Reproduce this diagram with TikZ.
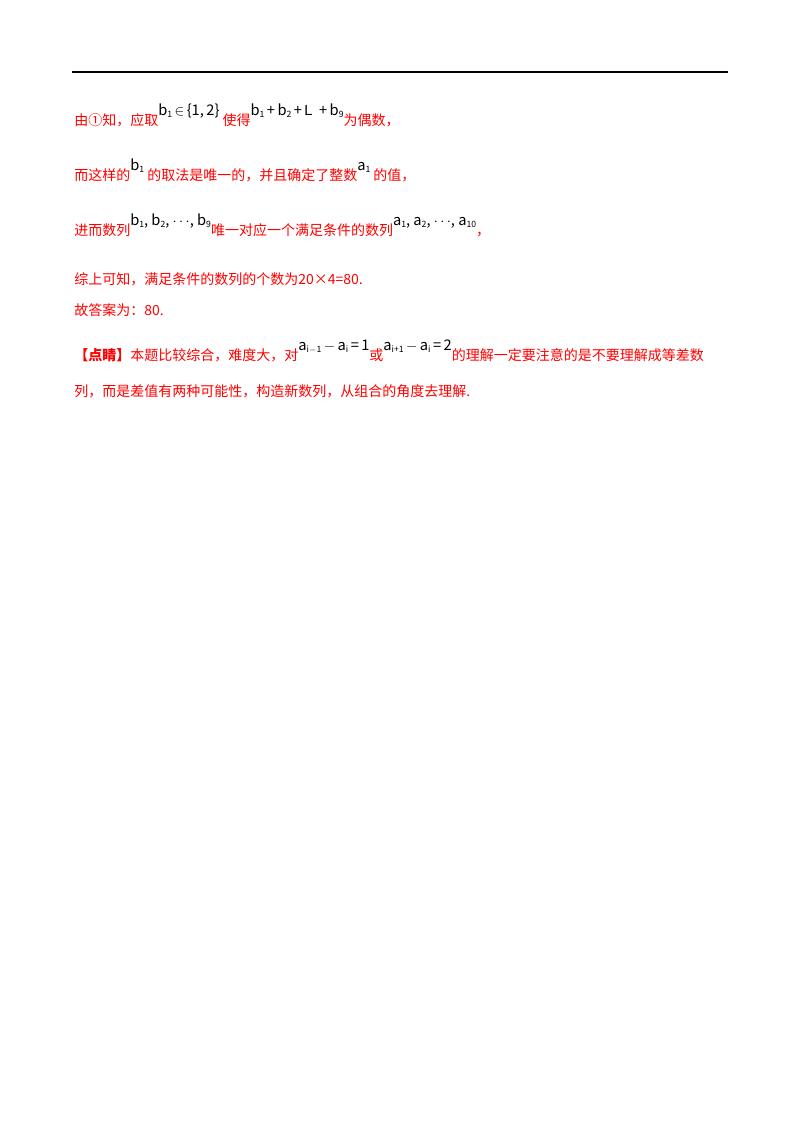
\documentclass[tikz,border=0pt]{standalone}
\usepackage{fontspec}
\setmainfont{Liberation Serif}
\newfontfamily\cjk{Noto Sans CJK SC}
\newfontfamily\lsans{Liberation Sans}
\newcommand{\mth}[1]{\raisebox{7pt}{\color{black}\fontsize{11}{11}\selectfont #1}}
\newcommand{\vi}[1]{\textit{#1}}
\newcommand{\sub}[1]{\raisebox{-1.5pt}{\fontsize{6.5}{6.5}\selectfont #1}}
\begin{document}
\begin{tikzpicture}[x=0.75pt,y=-0.75pt,
  txt/.style={anchor=base west,inner sep=0pt,text=red,font=\cjk\fontsize{10.5}{12}\selectfont}]
\useasboundingbox (0,0) rectangle (800,1132);
\draw[line width=1.5pt] (72,72) -- (728,72);
\node[txt] (l1) at (74,125) {由①知，应取\mth{\vi{b}\sub{1}\,$\in$\,\{1,\,2\}} 使得\mth{\vi{b}\sub{1}\,+\,\vi{b}\sub{2}\,+\,{\lsans L}\ \ +\,\vi{b}\sub{9}}为偶数，};
\node[txt] (l2) at (74,180) {而这样的\mth{\vi{b}\sub{1}} 的取法是唯一的，并且确定了整数\mth{\vi{a}\sub{1}} 的值，};
\node[txt] (l3) at (74,235) {进而数列\mth{\vi{b}\sub{1}, \vi{b}\sub{2}, $\cdots$, \vi{b}\sub{9}}唯一对应一个满足条件的数列\mth{\vi{a}\sub{1}, \vi{a}\sub{2}, $\cdots$, \vi{a}\sub{10}}，};
\node[txt] (l4) at (74,284) {综上可知，满足条件的数列的个数为20×4=80.};
\node[txt] (l5) at (74,315) {故答案为：80.};
\node[txt] (l6) at (74,360) {\textbf{【点睛】}本题比较综合，难度大，对\mth{\vi{a}\sub{\vi{i}$-$1}\,$-$\,\vi{a}\sub{\vi{i}}\,=\,1}或\mth{\vi{a}\sub{\vi{i}+1}\,$-$\,\vi{a}\sub{\vi{i}}\,=\,2}的理解一定要注意的是不要理解成等差数};
\node[txt] (l7) at (74,396) {列，而是差值有两种可能性，构造新数列，从组合的角度去理解.};
\end{tikzpicture}
\end{document}
